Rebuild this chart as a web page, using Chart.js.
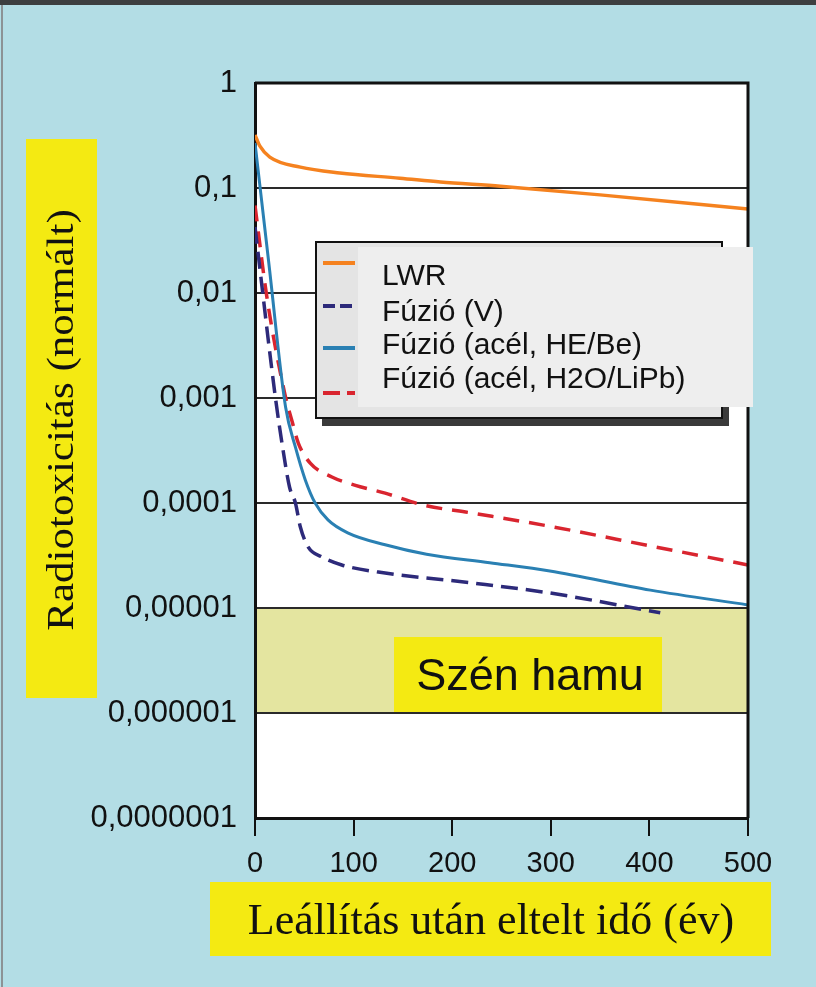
<!DOCTYPE html>
<html lang="hu">
<head>
<meta charset="utf-8">
<title>Radiotoxicitás</title>
<script src="https://cdn.jsdelivr.net/npm/chart.js@4.4.0/dist/chart.umd.min.js"></script>
<style>
  html, body { margin: 0; padding: 0; background: #b3dde5; }
  canvas { display: block; }
</style>
</head>
<body>
<canvas id="toxChart" width="816" height="987"></canvas>
<script>
// értékek (év, normált radiotoxicitás)
const lwrYears = [0, 5, 15, 46, 86, 147, 188, 249, 350, 500];
const lwrTox = [0.32, 0.25, 0.197, 0.158, 0.139, 0.124, 0.114, 0.104, 0.086, 0.063];

const vYears = [0, 21, 28, 35, 41, 46, 54, 68, 88, 132, 221, 299, 411];
const vTox = [0.0425, 0.00096, 0.00034, 0.000142, 0.0001, 0.000059, 0.000038, 0.0000306, 0.0000257, 0.0000215, 0.0000173, 0.0000139, 0.000009];

const heBeYears = [0, 14, 31, 41, 51, 61, 74, 94, 132, 174, 238, 299, 401, 500];
const heBeTox = [0.268, 0.0193, 0.00082, 0.00034, 0.000166, 0.0001, 0.000069, 0.000052, 0.00004, 0.0000325, 0.000027, 0.0000225, 0.0000148, 0.0000107];

const lipbYears = [0, 12, 30, 38, 44, 56, 78, 101, 132, 170, 221, 299, 401, 500];
const lipbTox = [0.068, 0.0092, 0.00112, 0.00058, 0.00037, 0.00024, 0.000177, 0.000148, 0.000124, 0.000096, 0.00008, 0.00006, 0.000039, 0.0000257];

const seriesLabels = ['LWR', 'Fúzió (V)', 'Fúzió (acél, HE/Be)', 'Fúzió (acél, H2O/LiPb)'];
const decadeTicks = [1e-7, 1e-6, 1e-5, 1e-4, 1e-3, 1e-2, 1e-1, 1];
const ashRange = [1e-6, 1e-5];

const SANS = '"Liberation Sans", Arial, sans-serif';
const SERIF = '"Liberation Serif", "Times New Roman", serif';

function toPoints(xs, ys) {
    return xs.map((x, i) => ({ x: x, y: ys[i] }));
}

function decimalComma(v) {
    const n = Math.round(-Math.log10(v));
    if (n <= 0) return '1';
    return '0,' + '0'.repeat(n - 1) + '1';
}

const decor = {
    id: 'decor',
    beforeDraw(chart) {
        const ctx = chart.ctx;
        const a = chart.chartArea;
        const y = chart.scales.y;
        ctx.save();
        ctx.fillStyle = '#b3dde5';
        ctx.fillRect(0, 0, chart.width, chart.height);
        ctx.fillStyle = '#3d3f40';
        ctx.fillRect(0, 0, chart.width, 5);
        ctx.fillStyle = '#8c9295';
        ctx.fillRect(1, 5, 2, chart.height - 5);

        ctx.fillStyle = '#ffffff';
        ctx.fillRect(a.left, a.top, a.right - a.left, a.bottom - a.top);

        // szén hamu sáv
        const yTop = y.getPixelForValue(ashRange[1]);
        const yBot = y.getPixelForValue(ashRange[0]);
        ctx.fillStyle = '#e4e5a0';
        ctx.fillRect(a.left, yTop, a.right - a.left, yBot - yTop);
        ctx.fillStyle = '#f4ea12';
        ctx.fillRect(394, 637, 268, yBot - 637);
        ctx.fillStyle = '#111';
        ctx.font = '45px ' + SANS;
        ctx.textAlign = 'center';
        ctx.textBaseline = 'alphabetic';
        ctx.fillText('Szén hamu', 530, 690);
        ctx.restore();
    },
    afterDatasetsDraw(chart) {
        const ctx = chart.ctx;
        const a = chart.chartArea;
        ctx.save();
        ctx.strokeStyle = '#111';
        ctx.lineWidth = 3;
        ctx.beginPath();
        ctx.moveTo(a.left, a.top);
        ctx.lineTo(a.right, a.top);
        ctx.lineTo(a.right, a.bottom);
        ctx.stroke();
        ctx.restore();
    },
    afterDraw(chart) {
        const ctx = chart.ctx;
        ctx.save();

        // jelmagyarázat
        ctx.fillStyle = '#3a3a3a';
        ctx.fillRect(322, 248, 407, 178);
        ctx.fillStyle = '#e4e4e4';
        ctx.fillRect(316, 242, 406, 176);
        ctx.strokeStyle = '#111';
        ctx.lineWidth = 2;
        ctx.strokeRect(316, 242, 406, 176);
        ctx.fillStyle = '#eeeeee';
        ctx.fillRect(358, 247, 395, 160);

        const rows = [263, 306, 348, 393];
        const base = [285, 321, 354, 388];
        chart.data.datasets.forEach((ds, i) => {
            ctx.strokeStyle = ds.borderColor;
            ctx.lineWidth = 4;
            ctx.setLineDash(i === 1 ? [12, 5] : i === 3 ? [17, 7] : []);
            ctx.beginPath();
            ctx.moveTo(323, rows[i]);
            ctx.lineTo(355, rows[i]);
            ctx.stroke();
            ctx.setLineDash([]);
            ctx.fillStyle = '#111';
            ctx.font = '30px ' + SANS;
            ctx.textAlign = 'left';
            ctx.textBaseline = 'alphabetic';
            ctx.fillText(ds.label, 382, base[i]);
        });

        // tengelyfeliratok sárga dobozban
        ctx.fillStyle = '#f4ea12';
        ctx.fillRect(26, 139, 71, 559);
        ctx.fillRect(210, 882, 561, 74);
        ctx.fillStyle = '#111';
        ctx.textAlign = 'center';
        ctx.textBaseline = 'middle';
        ctx.translate(63, 420);
        ctx.rotate(-Math.PI / 2);
        ctx.scale(1, 0.88);
        ctx.font = '43px ' + SERIF;
        ctx.fillText('Radiotoxicitás (normált)', 0, 0);
        ctx.setTransform(1, 0, 0, 1, 0, 0);
        ctx.font = '44px ' + SERIF;
        ctx.fillText('Leállítás után eltelt idő (év)', 491, 922);
        ctx.restore();
    }
};

new Chart(document.getElementById('toxChart'), {
    type: 'line',
    data: {
        datasets: [{
            label: seriesLabels[0],
            data: toPoints(lwrYears, lwrTox),
            borderColor: '#f5821f',
            borderWidth: 3.5
        }, {
            label: seriesLabels[1],
            data: toPoints(vYears, vTox),
            borderColor: '#2d2a7a',
            borderWidth: 3.5,
            borderDash: [17, 8]
        }, {
            label: seriesLabels[2],
            data: toPoints(heBeYears, heBeTox),
            borderColor: '#2a80b3',
            borderWidth: 3
        }, {
            label: seriesLabels[3],
            data: toPoints(lipbYears, lipbTox),
            borderColor: '#d9252f',
            borderWidth: 3.5,
            borderDash: [16, 10]
        }]
    },
    options: {
        responsive: false,
        animation: false,
        elements: {
            point: { radius: 0 },
            line: { cubicInterpolationMode: 'monotone', fill: false }
        },
        layout: { padding: { top: 83, right: 68, bottom: 0, left: 0 } },
        plugins: {
            legend: { display: false },
            tooltip: { enabled: false }
        },
        scales: {
            x: {
                type: 'linear',
                min: 0,
                max: 500,
                afterFit(scale) { scale.height = 169; },
                ticks: {
                    stepSize: 100,
                    color: '#111',
                    padding: 11,
                    font: { family: SANS, size: 29 }
                },
                grid: {
                    drawOnChartArea: false,
                    drawTicks: true,
                    tickLength: 18,
                    color: '#111',
                    lineWidth: 2
                },
                border: { display: true, color: '#111', width: 3 }
            },
            y: {
                type: 'logarithmic',
                min: 1e-7,
                max: 1,
                afterFit(scale) { scale.width = 255; },
                afterBuildTicks(scale) {
                    scale.ticks = decadeTicks.map(v => ({ value: v }));
                },
                ticks: {
                    autoSkip: false,
                    color: '#111',
                    padding: 18,
                    font: { family: SANS, size: 31 },
                    callback: function(value) { return decimalComma(value); }
                },
                grid: {
                    drawTicks: false,
                    color: '#2a2a2a',
                    lineWidth: 2
                },
                border: { display: true, color: '#111', width: 3 }
            }
        }
    },
    plugins: [decor]
});
</script>
</body>
</html>
